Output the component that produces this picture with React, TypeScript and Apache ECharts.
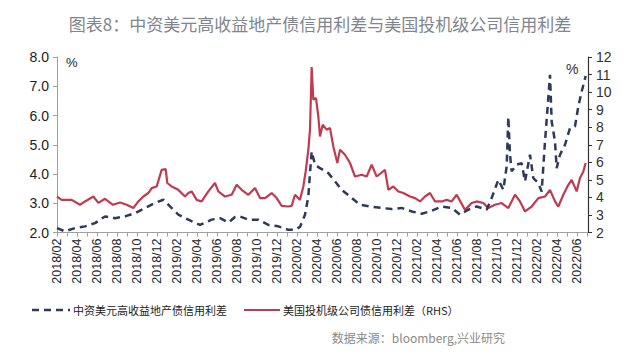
import React, { useEffect, useRef } from "react";
import * as echarts from "echarts";

const TITLE = "图表8：中资美元高收益地产债信用利差与美国投机级公司信用利差";
const SOURCE = "数据来源：bloomberg,兴业研究";
const NAME_CN = "中资美元高收益地产债信用利差";
const NAME_US = "美国投机级公司债信用利差（RHS）";

// US speculative-grade corporate spread (right axis, %)
const usDates = [
  "2018-02-01","2018-02-15","2018-03-15","2018-04-10","2018-04-25","2018-05-20","2018-06-05","2018-06-25",
  "2018-07-19","2018-08-10","2018-08-30","2018-09-20","2018-10-05","2018-10-20","2018-11-05","2018-11-15",
  "2018-11-30","2018-12-15","2018-12-27","2019-01-02","2019-01-15","2019-02-05","2019-02-25","2019-03-05",
  "2019-03-15","2019-03-30","2019-04-15","2019-05-05","2019-05-25","2019-06-05","2019-06-25","2019-07-15",
  "2019-07-30","2019-08-15","2019-09-05","2019-09-25","2019-10-10","2019-10-25","2019-11-15","2019-11-30",
  "2019-12-15","2020-01-05","2020-01-15","2020-01-25","2020-02-10","2020-02-20","2020-02-27","2020-03-05",
  "2020-03-10","2020-03-15","2020-03-20","2020-03-28","2020-04-05","2020-04-10","2020-04-18","2020-04-30",
  "2020-05-10","2020-05-20","2020-06-02","2020-06-10","2020-06-25","2020-07-10","2020-07-25","2020-08-15",
  "2020-08-30","2020-09-15","2020-09-30","2020-10-25","2020-11-05","2020-11-20","2020-12-05","2020-12-20",
  "2021-01-10","2021-01-25","2021-02-10","2021-02-25","2021-03-10","2021-03-25","2021-04-15","2021-04-30",
  "2021-05-15","2021-05-30","2021-06-25","2021-07-15","2021-07-30","2021-08-20","2021-09-05","2021-09-25",
  "2021-10-15","2021-11-05","2021-11-25","2021-12-10","2021-12-25","2022-01-15","2022-02-05","2022-02-25",
  "2022-03-10","2022-03-25","2022-04-05","2022-04-20","2022-05-05","2022-05-15","2022-05-30","2022-06-10",
  "2022-06-20","2022-06-27"
];
const usValues = [
  4.05,3.86,3.86,3.58,3.77,4.05,3.69,3.92,
  3.58,3.71,3.58,3.39,3.77,4.05,4.25,4.53,
  4.62,5.57,5.61,4.82,4.62,4.43,4.05,4.25,
  4.34,3.86,3.77,4.34,4.82,4.34,4.05,4.15,
  4.72,4.43,4.15,4.53,3.96,3.96,4.25,3.96,
  3.52,3.48,3.52,4.15,3.86,4.62,5.48,6.71,
  7.86,11.43,9.57,9.66,8.61,7.47,8.14,7.86,
  7.95,6.9,5.96,6.71,6.43,5.96,5.19,5.29,
  5.19,5.86,5.19,5.57,4.43,4.62,4.34,4.25,
  4.05,3.96,3.77,4.05,4.25,3.77,3.77,3.86,
  3.77,4.15,3.29,3.68,3.77,3.68,3.39,3.58,
  3.68,3.39,4.15,3.77,3.2,3.48,3.96,4.05,
  4.43,3.77,3.48,4.15,4.72,5.0,4.34,5.1,
  5.48,5.96
];

// China USD high-yield property bond spread (left axis, %)
const cnDates = [
  "2018-02-01","2018-02-25","2018-03-25","2018-04-25","2018-05-25","2018-06-25","2018-07-25","2018-08-25",
  "2018-09-25","2018-10-25","2018-11-25","2018-12-20","2019-01-10","2019-02-05","2019-03-05","2019-04-10",
  "2019-05-15","2019-06-10","2019-07-05","2019-07-25","2019-08-10","2019-09-05","2019-10-05","2019-11-05",
  "2019-12-05","2020-01-05","2020-01-25","2020-02-10","2020-02-25","2020-03-05","2020-03-10","2020-03-15",
  "2020-03-25","2020-04-10","2020-05-05","2020-05-25","2020-06-15","2020-07-10","2020-08-10","2020-09-10",
  "2020-10-15","2020-11-15","2020-12-15","2021-01-15","2021-02-15","2021-03-15","2021-04-15","2021-05-15",
  "2021-06-10","2021-07-05","2021-07-30","2021-08-30","2021-09-15","2021-10-05","2021-10-20","2021-10-30",
  "2021-11-05","2021-11-10","2021-11-15","2021-11-30","2021-12-15","2021-12-25","2022-01-10","2022-01-20",
  "2022-02-05","2022-02-15","2022-02-25","2022-03-05","2022-03-10","2022-03-15","2022-03-25","2022-03-30",
  "2022-04-10","2022-04-25","2022-05-10","2022-05-25","2022-06-05","2022-06-15","2022-06-27"
];
const cnValues = [
  2.15,2.04,2.15,2.21,2.32,2.55,2.49,2.55,
  2.66,2.84,3.01,3.12,2.89,2.61,2.44,2.26,
  2.44,2.49,2.34,2.53,2.55,2.44,2.44,2.26,
  2.21,2.09,2.09,2.19,2.61,3.23,4.03,4.77,
  4.32,4.2,4.03,3.75,3.46,3.23,2.95,2.89,
  2.84,2.8,2.84,2.72,2.64,2.74,2.89,2.84,
  2.61,2.78,2.89,2.78,3.18,3.8,3.46,4.26,
  5.95,4.66,4.09,4.32,4.37,3.75,4.66,3.86,
  3.69,3.4,5.11,6.6,7.39,5.8,5.11,4.2,
  4.66,5.0,5.57,5.63,6.31,6.82,7.35
];

const leftMin = 2, leftMax = 8;
const rightMin = 2, rightMax = 12;

// month offset since 2018/02
function toM(s: string): number {
  const [y, m, d] = s.split("-").map(Number);
  return (y - 2018) * 12 + (m - 2) + (d - 1) / 30;
}
function monthLabel(v: number): string {
  const total = 1 + v;
  const y = 2018 + Math.floor(total / 12);
  const mo = (total % 12) + 1;
  return `${y}/${mo < 10 ? "0" + mo : mo}`;
}

const RED = "#C23A50";
const NAVY = "#2E3A5A";
const FONT = "'Liberation Sans', Arial, sans-serif";
const CJK = "'Noto Sans CJK SC', sans-serif";

export default function App() {
  const ref = useRef<HTMLDivElement>(null);
  useEffect(() => {
    document.body.style.margin = "0";
    if (!ref.current) return;
    const chart = echarts.init(ref.current, undefined, { renderer: "svg" });
    chart.setOption({
      animation: false,
      backgroundColor: "#ffffff",
      title: {
        text: TITLE,
        left: "center",
        top: 10,
        textStyle: { fontSize: 17, color: "#80858e", fontWeight: "normal", fontFamily: CJK },
      },
      grid: { left: 57, right: 52, top: 57, bottom: 122.5, containLabel: false },
      xAxis: {
        type: "value",
        min: 0,
        max: 53.1,
        interval: 1,
        splitLine: { show: false },
        axisLine: { lineStyle: { color: "#a0a0a0", width: 1 } },
        axisTick: { show: true, length: 4, lineStyle: { color: "#a0a0a0" } },
        axisLabel: {
          rotate: 90,
          fontSize: 12.5,
          color: "#222",
          fontFamily: FONT,
          margin: 6,
          showMaxLabel: false,
          formatter: (v: number) =>
            Number.isInteger(v) && v % 2 === 0 ? monthLabel(v) : "",
        },
      },
      yAxis: [
        {
          type: "value",
          min: leftMin,
          max: leftMax,
          interval: 1,
          position: "left",
          splitLine: { show: false },
          axisLine: { show: true, lineStyle: { color: "#a0a0a0" } },
          axisTick: { show: true, length: 4, lineStyle: { color: "#a0a0a0" } },
          axisLabel: {
            fontSize: 14,
            color: "#222",
            fontFamily: FONT,
            margin: 8,
            formatter: (v: number) => v.toFixed(1),
          },
        },
        {
          type: "value",
          min: rightMin,
          max: rightMax,
          interval: 1,
          position: "right",
          splitLine: { show: false },
          axisLine: { show: true, lineStyle: { color: "#333", width: 1.2 } },
          axisTick: { show: true, length: 4, lineStyle: { color: "#333" } },
          axisLabel: { fontSize: 14, color: "#333", fontFamily: FONT, margin: 8 },
        },
      ],
      series: [
        {
          name: NAME_CN,
          type: "line",
          yAxisIndex: 0,
          symbol: "none",
          data: cnDates.map((d, i) => [toM(d), cnValues[i]]),
          lineStyle: { color: NAVY, width: 2.5, type: [7, 5] },
          itemStyle: { color: NAVY },
          z: 3,
        },
        {
          name: NAME_US,
          type: "line",
          yAxisIndex: 1,
          symbol: "none",
          data: usDates.map((d, i) => [toM(d), usValues[i]]),
          lineStyle: { color: RED, width: 2.2 },
          itemStyle: { color: RED },
          z: 2,
        },
      ],
      graphic: [
        { type: "text", left: 66, top: 56, style: { text: "%", fontSize: 13, fill: "#222", fontFamily: FONT } },
        { type: "text", left: 566, top: 62, style: { text: "%", fontSize: 14, fill: "#333", fontFamily: FONT } },
        {
          type: "line",
          shape: { x1: 32, y1: 310, x2: 70, y2: 310 },
          style: { stroke: NAVY, lineWidth: 2.5, lineDash: [7, 5] },
        },
        {
          type: "text",
          x: 73,
          y: 310,
          style: { text: NAME_CN, fontSize: 11, fill: "#222", fontFamily: CJK, verticalAlign: "middle" },
        },
        {
          type: "line",
          shape: { x1: 244, y1: 310, x2: 280, y2: 310 },
          style: { stroke: RED, lineWidth: 2.2 },
        },
        {
          type: "text",
          x: 283,
          y: 310,
          style: { text: NAME_US, fontSize: 11, fill: "#222", fontFamily: CJK, verticalAlign: "middle" },
        },
        {
          type: "text",
          x: 505,
          y: 337,
          style: {
            text: SOURCE,
            fontSize: 12,
            fill: "#8a8a8a",
            fontFamily: CJK,
            align: "right",
            verticalAlign: "middle",
          },
        },
      ],
    });
    return () => chart.dispose();
  }, []);
  return <div ref={ref} style={{ width: 640, height: 355 }} />;
}
